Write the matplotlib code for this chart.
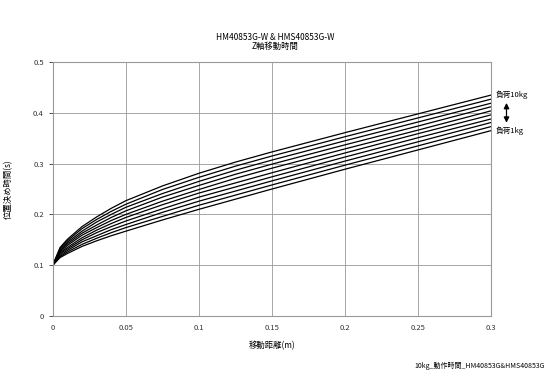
import matplotlib.pyplot as plt

plt.rcParams['font.family'] = ['Noto Sans CJK JP', 'DejaVu Sans']

# Distance (m)
distance = [0, 0.005, 0.01, 0.02, 0.03, 0.04, 0.05, 0.075, 0.1, 0.125, 0.15, 0.2, 0.25, 0.3]

# Positioning time (s) for load 1kg .. 10kg
time_by_load = [
    [0.100, 0.115, 0.123, 0.137, 0.148, 0.158, 0.167, 0.189, 0.210, 0.230, 0.250, 0.289, 0.327, 0.365],
    [0.100, 0.117, 0.126, 0.141, 0.153, 0.164, 0.174, 0.196, 0.218, 0.238, 0.258, 0.297, 0.335, 0.373],
    [0.100, 0.119, 0.129, 0.146, 0.158, 0.170, 0.180, 0.204, 0.226, 0.246, 0.266, 0.305, 0.343, 0.381],
    [0.100, 0.122, 0.132, 0.150, 0.164, 0.176, 0.187, 0.211, 0.234, 0.254, 0.274, 0.313, 0.351, 0.388],
    [0.100, 0.124, 0.135, 0.154, 0.169, 0.182, 0.194, 0.219, 0.242, 0.262, 0.282, 0.321, 0.359, 0.396],
    [0.100, 0.126, 0.139, 0.159, 0.174, 0.188, 0.200, 0.226, 0.249, 0.271, 0.291, 0.329, 0.366, 0.404],
    [0.100, 0.128, 0.142, 0.163, 0.179, 0.194, 0.207, 0.234, 0.257, 0.279, 0.299, 0.337, 0.374, 0.412],
    [0.100, 0.131, 0.145, 0.167, 0.185, 0.200, 0.214, 0.241, 0.265, 0.287, 0.307, 0.345, 0.382, 0.419],
    [0.100, 0.133, 0.148, 0.172, 0.190, 0.206, 0.220, 0.249, 0.273, 0.295, 0.315, 0.353, 0.390, 0.427],
    [0.100, 0.135, 0.151, 0.176, 0.195, 0.212, 0.227, 0.256, 0.281, 0.303, 0.323, 0.361, 0.398, 0.435],
]

x_ticks = [0, 0.05, 0.1, 0.15, 0.2, 0.25, 0.3]
x_tick_labels = ['0', '0.05', '0.1', '0.15', '0.2', '0.25', '0.3']
y_ticks = [0, 0.1, 0.2, 0.3, 0.4, 0.5]
y_tick_labels = ['0', '0.1', '0.2', '0.3', '0.4', '0.5']

fig = plt.figure(figsize=(5.5, 3.83), dpi=100)
ax = fig.add_axes([0.096, 0.175, 0.797, 0.663])

for t in time_by_load:
    ax.plot(distance, t, color='black', linewidth=0.9)

ax.set_xlim(0, 0.3)
ax.set_ylim(0, 0.5)
ax.set_xticks(x_ticks)
ax.set_xticklabels(x_tick_labels)
ax.set_yticks(y_ticks)
ax.set_yticklabels(y_tick_labels)
ax.tick_params(labelsize=5.5, colors='#333333', length=3, width=0.6)
ax.tick_params(axis='x', length=0, pad=6)
ax.grid(True, color='#999999', linewidth=0.6)
for s in ax.spines.values():
    s.set_color('#999999')
    s.set_linewidth(0.8)

ax.set_xlabel('移動距離(m)', fontsize=6, labelpad=6)
ax.set_ylabel('位置決め時間(s)', fontsize=6, labelpad=14)

fig.text(0.5, 0.895, 'HM40853G-W & HMS40853G-W', ha='center', fontsize=6)
fig.text(0.5, 0.872, 'Z軸移動時間', ha='center', fontsize=6)

# load annotations on the right
ax.annotate('負荷10kg', xy=(1.01, 0.435), xycoords=('axes fraction', 'data'),
            fontsize=5.5, va='center', ha='left')
ax.annotate('負荷1kg', xy=(1.01, 0.365), xycoords=('axes fraction', 'data'),
            fontsize=5.5, va='center', ha='left')
ax.annotate('', xy=(1.035, 0.425), xytext=(1.035, 0.375),
            xycoords=('axes fraction', 'data'), textcoords=('axes fraction', 'data'),
            arrowprops=dict(arrowstyle='<|-|>', color='black', lw=0.9,
                            mutation_scale=8))

fig.text(0.99, 0.04, '10kg_動作時間_HM40853G&HMS40853G', ha='right', fontsize=5)

fig.savefig('out.png', dpi=100, facecolor='white')
